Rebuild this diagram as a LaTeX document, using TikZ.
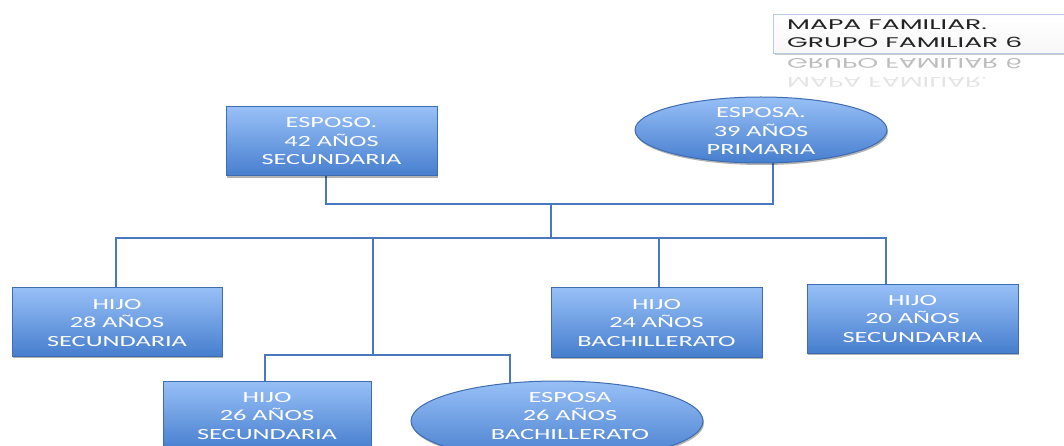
\documentclass[tikz,border=0pt]{standalone}
\usepackage{fontspec}
\usetikzlibrary{shapes.geometric,shadows,backgrounds}
\newfontfamily\boxfont[FakeStretch=1.7]{Carlito}
\newfontfamily\titlefont[FakeStretch=1.9]{Poppins}
\definecolor{boxtop}{RGB}{152,192,247}
\definecolor{boxbot}{RGB}{70,126,206}
\definecolor{boxline}{RGB}{62,108,176}
\definecolor{wirecol}{RGB}{74,120,190}
\definecolor{titletext}{RGB}{35,35,35}
\definecolor{titleline}{RGB}{185,202,228}

\tikzset{
  member/.style={shade, top color=boxtop, bottom color=boxbot, draw=boxline,
    line width=1pt, inner sep=0pt,
    drop shadow={shadow xshift=1pt, shadow yshift=-2pt, opacity=0.3, fill=black}},
  rectmember/.style={member, rectangle, minimum width=211pt, minimum height=69pt},
  ovalmember/.style={member, ellipse},
  membertext/.style={text=white, align=center, inner sep=0pt,
    font=\boxfont\fontsize{15.5}{18.5}\selectfont},
  link/.style={draw=wirecol, line width=2.5pt},
  titlebox/.style={shade, top color=white, bottom color=gray!6, draw=titleline,
    line width=1pt, inner sep=0pt,
    drop shadow={shadow xshift=1pt, shadow yshift=-2pt, opacity=0.2, fill=black}},
  titletxt/.style={text=titletext, align=left, inner sep=0pt,
    font=\titlefont\fontsize{14}{18}\selectfont}
}

\begin{document}
\begin{tikzpicture}[x=1pt, y=-1pt]
  \useasboundingbox (0,0) rectangle (1064,446);
  \clip (0,0) rectangle (1064,446);

  % heading
  \node[titlebox, anchor=north west, minimum width=300pt, minimum height=39pt] (title) at (773,14) {};
  \node[titletxt, anchor=west] (titlelabel) at (787,34) {MAPA FAMILIAR.\\GRUPO FAMILIAR 6};
  \node[titletxt, anchor=west, yscale=-1, transform shape, opacity=0.3] (mirrorB) at (787,64) {GRUPO FAMILIAR 6};
  \node[titletxt, anchor=west, yscale=-1, transform shape, opacity=0.12] (mirrorA) at (787,82) {MAPA FAMILIAR.};

  % parents
  \node[rectmember] (esposo) at (331.5,141.5) {};
  \node[membertext] (esposoT) at (esposo) {ESPOSO.\\42 AÑOS\\SECUNDARIA};
  \node[ovalmember, minimum width=252pt, minimum height=66pt] (esposa) at (761,130) {};
  \node[membertext] (esposaT) at (761,131) {ESPOSA.\\39 AÑOS\\PRIMARIA};

  % children
  \node[rectmember, minimum width=210pt] (hijoA) at (117,321.5) {};
  \node[membertext] (hijoAT) at (117,323) {HIJO\\28 AÑOS\\SECUNDARIA};
  \node[rectmember, minimum height=70pt] (hijoC) at (656.5,322) {};
  \node[membertext] (hijoCT) at (656.5,323) {HIJO\\24 AÑOS\\BACHILLERATO};
  \node[rectmember] (hijoD) at (912.5,318.5) {};
  \node[membertext] (hijoDT) at (912.5,319) {HIJO\\20 AÑOS\\SECUNDARIA};
  \node[rectmember, minimum width=208pt] (hijoB) at (267,415.5) {};
  \node[membertext] (hijoBT) at (267,416) {HIJO\\26 AÑOS\\SECUNDARIA};
  \node[ovalmember, minimum width=292pt, minimum height=80pt] (nuera) at (557,421) {};
  \node[membertext] (nueraT) at (570,416) {ESPOSA\\26 AÑOS\\BACHILLERATO};

  % connectors, behind the boxes
  \coordinate (coupleL) at (326,204);
  \coordinate (coupleR) at (773,204);
  \coordinate (mid) at (551,204);
  \coordinate (bus) at (551,238);
  \coordinate (busL) at (116,238);
  \coordinate (busR) at (886,238);
  \coordinate (tapB) at (373,238);
  \coordinate (tapC) at (659,238);
  \coordinate (pair) at (373,355);
  \coordinate (pairL) at (265,355);
  \coordinate (pairR) at (510,355);
  \begin{scope}[on background layer]
    \draw[link] (coupleL |- esposo.center) -- (coupleL) -- (coupleR) -- (coupleR |- esposa.center);
    \draw[link] (mid) -- (bus);
    \draw[link] (busL |- hijoA.center) -- (busL) -- (busR) -- (busR |- hijoD.center);
    \draw[link] (tapC) -- (tapC |- hijoC.center);
    \draw[link] (tapB) -- (pair);
    \draw[link] (pairL |- hijoB.center) -- (pairL) -- (pairR) -- (pairR |- nuera.center);
  \end{scope}
\end{tikzpicture}
\end{document}
